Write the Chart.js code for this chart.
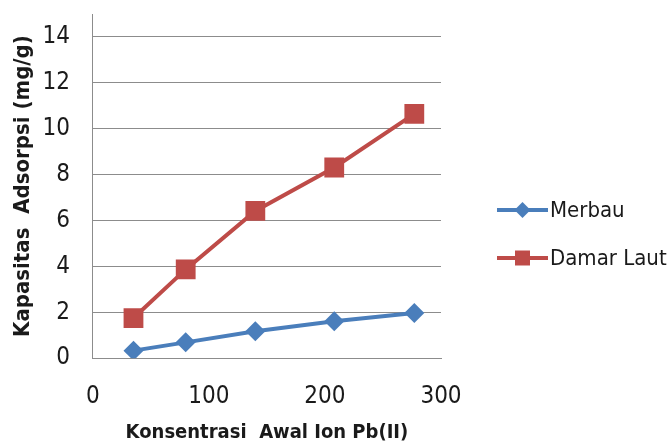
<!DOCTYPE html>
<html>
<head>
<meta charset="utf-8">
<script src="https://cdn.jsdelivr.net/npm/chart.js@4.4.1/dist/chart.umd.min.js"></script>
<style>
  html, body { margin: 0; padding: 0; background: #ffffff; }
  #wrap { width: 670px; height: 445px; }
</style>
</head>
<body>
<div id="wrap"><canvas id="chart" width="670" height="445"></canvas></div>
<script>
// Initial Pb(II) concentration and adsorption capacity (mg/g)
const concentration = [35, 80, 140, 208, 277];
const merbau = [0.33, 0.69, 1.17, 1.61, 1.97];
const damarLaut = [1.75, 3.87, 6.42, 8.31, 10.65];
const seriesNames = ['Merbau', 'Damar Laut'];
const yTickValues = [0, 2, 4, 6, 8, 10, 12, 14];
const xTickValues = [0, 100, 200, 300];
const xTitle = 'Konsentrasi  Awal Ion Pb(II)';
const yTitle = 'Kapasitas  Adsorpsi (mg/g)';

const FONT = "'Liberation Sans Narrow', 'DejaVu Sans Condensed', 'Arial Narrow', sans-serif";
const BLUE = '#4A7EBB';
const RED = '#BE4B48';

function toPoints(xs, ys) {
  return xs.map((x, i) => ({ x: x, y: ys[i] }));
}

function drawMarker(ctx, style, x, y, r, color) {
  ctx.save();
  ctx.fillStyle = color;
  ctx.beginPath();
  if (style === 'rectRot') {
    ctx.moveTo(x, y - r);
    ctx.lineTo(x + r, y);
    ctx.lineTo(x, y + r);
    ctx.lineTo(x - r, y);
  } else {
    ctx.rect(x - r, y - r, 2 * r, 2 * r);
  }
  ctx.closePath();
  ctx.fill();
  ctx.restore();
}

// Legend on the right: line sample with marker, then the series name
const sideLegend = {
  id: 'sideLegend',
  afterDraw(chart) {
    const ctx = chart.ctx;
    const rows = [
      { y: 210, color: BLUE, style: 'rectRot', r: 8 },
      { y: 258, color: RED, style: 'rect', r: 7.5 }
    ];
    chart.data.datasets.forEach((ds, i) => {
      const row = rows[i];
      ctx.save();
      ctx.strokeStyle = row.color;
      ctx.lineWidth = 4;
      ctx.beginPath();
      ctx.moveTo(497, row.y);
      ctx.lineTo(548, row.y);
      ctx.stroke();
      drawMarker(ctx, row.style, 522.5, row.y, row.r, row.color);
      ctx.fillStyle = '#1a1a1a';
      ctx.font = '22px ' + FONT;
      ctx.textBaseline = 'middle';
      ctx.textAlign = 'left';
      ctx.fillText(ds.label, 550, row.y + 1);
      ctx.restore();
    });
  }
};

new Chart(document.getElementById('chart'), {
  type: 'line',
  data: {
    datasets: [
      {
        label: seriesNames[0],
        data: toPoints(concentration, merbau),
        borderColor: BLUE,
        backgroundColor: BLUE,
        borderWidth: 4,
        pointStyle: 'rectRot',
        pointRadius: 10,
        pointBorderWidth: 0,
        pointBackgroundColor: BLUE,
        tension: 0
      },
      {
        label: seriesNames[1],
        data: toPoints(concentration, damarLaut),
        borderColor: RED,
        backgroundColor: RED,
        borderWidth: 4,
        pointStyle: 'rect',
        pointRadius: 14,
        pointBorderWidth: 0,
        pointBackgroundColor: RED,
        tension: 0
      }
    ]
  },
  options: {
    responsive: false,
    animation: false,
    layout: { padding: { top: 14, right: 229, left: 0, bottom: 0 } },
    plugins: {
      legend: { display: false },
      tooltip: { enabled: false }
    },
    scales: {
      x: {
        type: 'linear',
        min: 0,
        max: 300,
        afterBuildTicks(axis) {
          axis.ticks = xTickValues.map(v => ({ value: v }));
        },
        ticks: {
          padding: 24,
          color: '#1a1a1a',
          font: { family: FONT, size: 24 }
        },
        grid: { display: false, drawTicks: false },
        border: { display: true, color: '#8c8c8c', width: 1 },
        title: {
          display: true,
          text: xTitle,
          color: '#1a1a1a',
          font: { family: FONT, size: 20, weight: 'bold' },
          padding: { top: -14, bottom: 0 }
        }
      },
      y: {
        min: 0,
        max: 15,
        afterBuildTicks(axis) {
          axis.ticks = yTickValues.map(v => ({ value: v }));
        },
        afterFit(axis) {
          // the top label sits well below the axis end, so no extra room is needed above it
          axis.paddingTop = 0;
        },
        ticks: {
          padding: 23,
          color: '#1a1a1a',
          font: { family: FONT, size: 24 }
        },
        grid: { color: '#8c8c8c', lineWidth: 1, drawTicks: false },
        border: { display: true, color: '#8c8c8c', width: 1 },
        title: {
          display: true,
          text: yTitle,
          color: '#1a1a1a',
          font: { family: FONT, size: 22, weight: 'bold' },
          padding: { top: 10, bottom: -17 }
        }
      }
    }
  },
  plugins: [sideLegend]
});
</script>
</body>
</html>
